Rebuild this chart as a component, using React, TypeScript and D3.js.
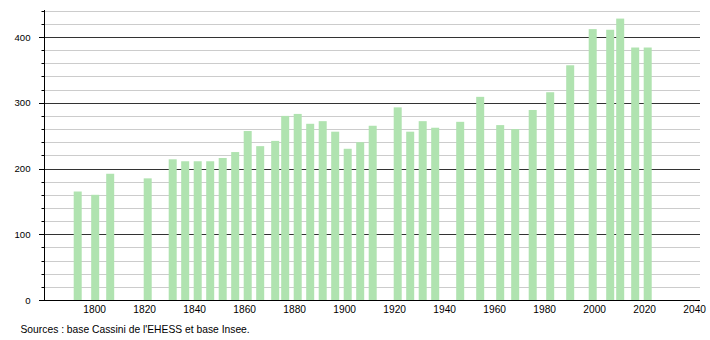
import React from "react";
import * as d3 from "d3";

const years: number[] = [
  1793, 1800, 1806, 1821, 1831, 1836, 1841, 1846, 1851, 1856, 1861, 1866,
  1872, 1876, 1881, 1886, 1891, 1896, 1901, 1906, 1911, 1921, 1926, 1931,
  1936, 1946, 1954, 1962, 1968, 1975, 1982, 1990, 1999, 2006, 2010, 2016, 2021,
];
const population: number[] = [
  165, 160, 192, 185, 214, 211, 211, 211, 216, 225, 257, 234,
  242, 280, 283, 268, 272, 256, 230, 240, 265, 293, 256, 272,
  262, 271, 309, 266, 260, 289, 316, 357, 412, 411, 428, 384, 384,
];
const xTickYears: number[] = [1800, 1820, 1840, 1860, 1880, 1900, 1920, 1940, 1960, 1980, 2000, 2020, 2040];
const yMajorTicks: number[] = [0, 100, 200, 300, 400];
const yMinorTicks: number[] = d3.range(20, 441, 20).filter((v) => v % 100 !== 0);
const sourceText = "Sources : base Cassini de l'EHESS et base Insee.";

const W = 710;
const H = 340;
const left = 44;
const right = 700;
const bottom = 300;

export default function App() {
  const x = d3.scaleLinear().domain([1780, 2040]).range([44.7, 694.7]);
  const y = d3.scaleLinear().domain([0, 440]).range([bottom, 10.7]);
  const barW = 8;
  const font = "'Liberation Sans', Arial, Helvetica, sans-serif";

  return (
    <svg
      width={W}
      height={H}
      style={{ position: "absolute", left: 0, top: 0, background: "#fff" }}
      fontFamily={font}
    >
      {yMinorTicks.map((v) => (
        <line
          key={"mg" + v}
          x1={left}
          x2={right}
          y1={Math.round(y(v)) + 0.5}
          y2={Math.round(y(v)) + 0.5}
          stroke="#cccccc"
          strokeWidth={1}
        />
      ))}
      {yMajorTicks.filter((v) => v > 0).map((v) => (
        <line
          key={"Mg" + v}
          x1={left}
          x2={right}
          y1={Math.round(y(v)) + 0.5}
          y2={Math.round(y(v)) + 0.5}
          stroke="#333333"
          strokeWidth={1}
        />
      ))}
      {years.map((yr, i) => (
        <rect
          key={"b" + yr}
          x={x(yr) + 0.5 - barW / 2}
          y={y(population[i])}
          width={barW}
          height={bottom - y(population[i])}
          fill="#b0e3b0"
        />
      ))}
      <line x1={left + 0.5} x2={left + 0.5} y1={10} y2={bottom + 0.5} stroke="#000" strokeWidth={1} />
      <line x1={left} x2={right} y1={bottom + 0.5} y2={bottom + 0.5} stroke="#000" strokeWidth={1} />
      {yMinorTicks.map((v) => (
        <line
          key={"mt" + v}
          x1={41.5}
          x2={left}
          y1={Math.round(y(v)) + 0.5}
          y2={Math.round(y(v)) + 0.5}
          stroke="#000"
          strokeWidth={1}
        />
      ))}
      {yMajorTicks.map((v) => (
        <line
          key={"Mt" + v}
          x1={39}
          x2={left}
          y1={Math.round(y(v)) + 0.5}
          y2={Math.round(y(v)) + 0.5}
          stroke="#000"
          strokeWidth={1}
        />
      ))}
      {yMajorTicks.map((v) => (
        <text
          key={"yl" + v}
          x={30.5}
          y={y(v) + 3.6}
          textAnchor="end"
          fontSize={9.6}
          fill="#000"
        >
          {v}
        </text>
      ))}
      {xTickYears.map((t) => (
        <text
          key={"xl" + t}
          x={x(t)}
          y={312.5}
          textAnchor="middle"
          fontSize={10.2}
          fill="#000"
        >
          {t}
        </text>
      ))}
      <text x={20.5} y={333} fontSize={10.3} fill="#000">
        {sourceText}
      </text>
    </svg>
  );
}
